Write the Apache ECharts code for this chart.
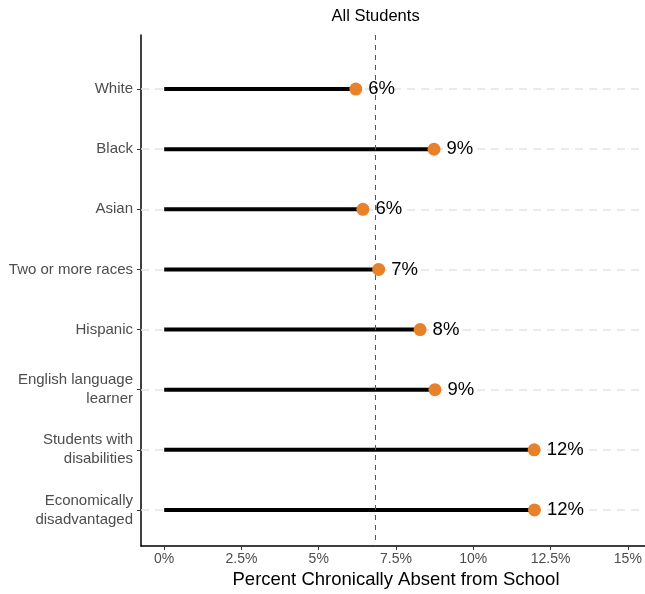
<!DOCTYPE html>
<html>
<head>
<meta charset="utf-8">
<script src="https://cdn.jsdelivr.net/npm/echarts@6/dist/echarts.min.js"></script>
<style>html,body{margin:0;padding:0;background:#fff;overflow:hidden}#c{width:645px;height:594px}</style>
</head>
<body>
<div id="c"></div>
<script>
const categories = ['White', 'Black', 'Asian', 'Two or more races', 'Hispanic', 'English language\nlearner', 'Students with\ndisabilities', 'Economically\ndisadvantaged'];
const values = [6.20, 8.73, 6.43, 6.94, 8.28, 8.76, 11.97, 11.98];
const valueLabels = ['6%', '9%', '6%', '7%', '8%', '9%', '12%', '12%'];
const allStudents = 6.84;
const allStudentsLabel = 'All Students';
const xTicks = [0, 2.5, 5, 7.5, 10, 12.5, 15];
const xTitle = 'Percent Chronically Absent from School';

const rows = categories.map((c, i) => i + 1);
const points = values.map((v, i) => [v, i + 1]);
const FONT = 'Liberation Sans';

const chart = echarts.init(document.getElementById('c'), null, {renderer: 'canvas'});
chart.setOption({
  animation: false,
  backgroundColor: '#fff',
  textStyle: {fontFamily: FONT},
  grid: {left: 141, right: -6, top: 35, bottom: 48, containLabel: false, outerBoundsMode: 'none'},
  xAxis: {
    type: 'value', min: -0.75, max: 15.75,
    axisLine: {show: true, onZero: false, lineStyle: {color: '#000', width: 1.5}},
    axisTick: {show: true, customValues: xTicks, length: 4, lineStyle: {color: '#333', width: 1}},
    axisLabel: {customValues: xTicks, formatter: v => v + '%', color: '#4d4d4d', fontSize: 14, margin: 6, fontFamily: FONT},
    splitLine: {show: false},
    name: xTitle, nameLocation: 'middle', nameGap: 24,
    nameTextStyle: {color: '#000', fontSize: 18.5, fontFamily: FONT}
  },
  yAxis: {
    type: 'value', min: 0.1, max: 8.6, inverse: true,
    axisLine: {show: true, onZero: false, lineStyle: {color: '#000', width: 1.5}},
    axisTick: {show: true, customValues: rows, length: 4, lineStyle: {color: '#333', width: 1}},
    axisLabel: {customValues: rows, formatter: v => categories[Math.round(v) - 1] || '', color: '#4d4d4d', fontSize: 15, margin: 8, lineHeight: 19, fontFamily: FONT},
    splitLine: {show: false}
  },
  series: [
    {
      type: 'custom',
      data: points,
      z: 2,
      renderItem: function (params, api) {
        const p0 = api.coord([0, api.value(1)]);
        const p1 = api.coord([api.value(0), api.value(1)]);
        return {type: 'line', shape: {x1: p0[0], y1: p0[1], x2: p1[0], y2: p1[1]}, style: {stroke: '#000', lineWidth: 4}};
      },
      markLine: {
        silent: true, symbol: 'none', z: 1,
        lineStyle: {color: '#e3e3e3', type: [8, 6], width: 1.5},
        label: {show: false},
        data: rows.map(r => ({yAxis: r}))
      }
    },
    {
      type: 'scatter',
      data: points,
      symbolSize: 13,
      z: 4,
      itemStyle: {color: '#E8822A', opacity: 1},
      label: {
        show: true, position: 'right', distance: 6,
        formatter: p => valueLabels[p.dataIndex],
        color: '#000', fontSize: 18.5, fontFamily: FONT
      },
      markLine: {
        silent: true, symbol: 'none', z: 3,
        lineStyle: {color: '#555', type: [5, 5], width: 1},
        label: {show: true, position: 'start', formatter: allStudentsLabel, color: '#000', fontSize: 16.5, fontFamily: FONT, distance: 10},
        data: [{xAxis: allStudents}]
      }
    }
  ]
});
</script>
</body>
</html>
